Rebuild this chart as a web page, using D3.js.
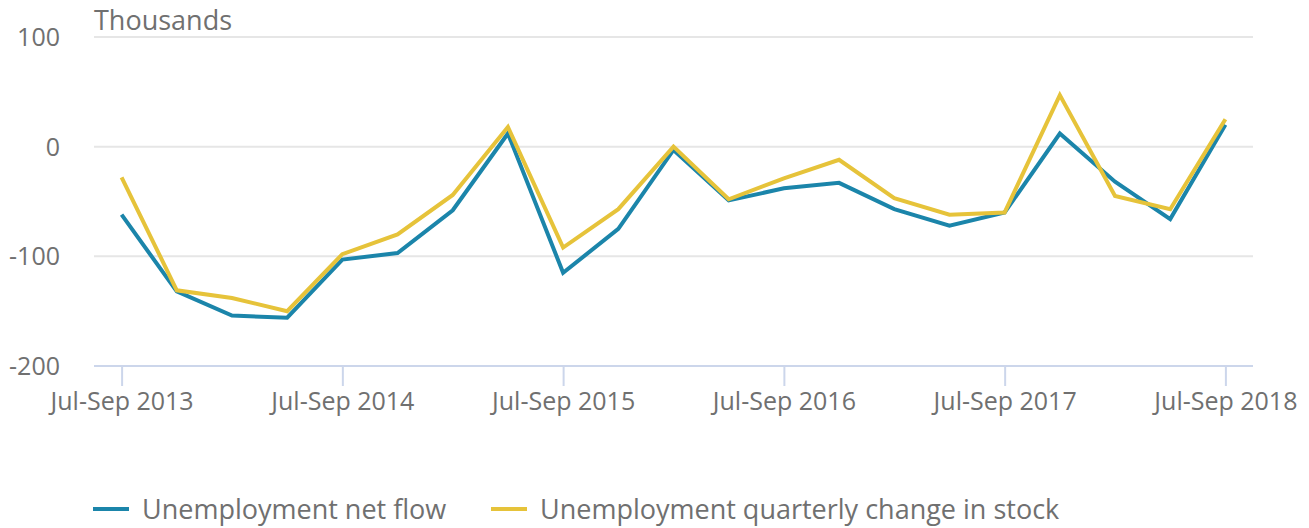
<!DOCTYPE html>
<html>
<head>
<meta charset="utf-8">
<script src="https://cdn.jsdelivr.net/npm/d3@7"></script>
<style>
  body { margin: 0; background: #fff; }
  text { font-family: "Open Sans", sans-serif; fill: #707070; }
</style>
</head>
<body>
<div id="chart-area"></div>
<script>
// quarters Jul-Sep 2013 .. Jul-Sep 2018
let quarters = ["Jul-Sep 2013", "Oct-Dec 2013", "Jan-Mar 2014", "Apr-Jun 2014",
  "Jul-Sep 2014", "Oct-Dec 2014", "Jan-Mar 2015", "Apr-Jun 2015",
  "Jul-Sep 2015", "Oct-Dec 2015", "Jan-Mar 2016", "Apr-Jun 2016",
  "Jul-Sep 2016", "Oct-Dec 2016", "Jan-Mar 2017", "Apr-Jun 2017",
  "Jul-Sep 2017", "Oct-Dec 2017", "Jan-Mar 2018", "Apr-Jun 2018",
  "Jul-Sep 2018"]

let netFlow = [-62, -132, -154, -156, -103, -97, -58, 12, -115, -75, -3,
  -49, -38, -33, -57, -72, -60, 12, -32, -66, 20]

let stockChange = [-28, -131, -138, -150, -98, -80, -44, 18, -92, -57, 0,
  -48, -29, -12, -47, -62, -60, 47, -45, -57, 25]

let yTicks = [100, 0, -100, -200]
let xTickLabels = ["Jul-Sep 2013", "Jul-Sep 2014", "Jul-Sep 2015", "Jul-Sep 2016", "Jul-Sep 2017", "Jul-Sep 2018"]

let seriesNames = ["Unemployment net flow", "Unemployment quarterly change in stock"]
let colors = ["#1b85aa", "#e6c33a"]

let width = 1309
let height = 528
let plot = {left: 94, right: 1253, top: 37, bottom: 366}

let svg = d3.select("#chart-area")
  .append("svg")
    .attr("width", width)
    .attr("height", height)

let x = d3.scalePoint().domain(quarters).range([plot.left, plot.right]).padding(0.5)
let y = d3.scaleLinear().domain([-200, 100]).range([plot.bottom, plot.top])

// gridlines
svg.append("g")
  .selectAll("line")
  .data(yTicks.filter(d => d != -200))
  .enter().append("line")
    .attr("x1", plot.left)
    .attr("x2", plot.right)
    .attr("y1", d => y(d))
    .attr("y2", d => y(d))
    .attr("stroke", "#e6e6e6")
    .attr("stroke-width", 2)

// y labels (plain hyphen for negatives, like the original)
let leftAxis = d3.axisLeft(y).tickValues(yTicks).tickSize(0).tickPadding(0)
  .tickFormat(d => String(d))
let ly = svg.append("g")
  .attr("transform", "translate(60, 0)")
  .call(leftAxis)
ly.select(".domain").remove()
ly.selectAll("text")
  .attr("font-size", "25px")
  .attr("dy", "0.34em")
  .attr("fill", null)
  .attr("font-family", null)

// x axis
let bottomAxis = d3.axisBottom(x).tickValues(xTickLabels).tickSize(20).tickPadding(5)
let lx = svg.append("g")
  .attr("transform", "translate(0, " + plot.bottom + ")")
  .call(bottomAxis)
lx.select(".domain")
  .attr("d", "M" + plot.left + ",0H" + plot.right)
  .attr("stroke", "#ccd6eb")
  .attr("stroke-width", 2)
lx.selectAll(".tick line")
  .attr("stroke", "#ccd6eb")
  .attr("stroke-width", 2)
lx.selectAll("text")
  .attr("font-size", "25px")
  .attr("y", 44)
  .attr("dy", 0)
  .attr("fill", null)
  .attr("font-family", null)

// lines
let line = d3.line()
  .x((d, i) => x(quarters[i]))
  .y(d => y(d))

let allSeries = [netFlow, stockChange]
allSeries.forEach((s, k) => {
  svg.append("path")
    .datum(s)
    .attr("fill", "none")
    .attr("stroke", colors[k])
    .attr("stroke-width", 4)
    .attr("stroke-linejoin", "miter")
    .attr("d", line)
})

svg.append("text")
  .attr("x", 94)
  .attr("y", 30)
  .attr("font-size", "27px")
  .text("Thousands")

// legend
let legendX = [93, 491]
seriesNames.forEach((name, k) => {
  let lg = svg.append("g").attr("transform", "translate(" + legendX[k] + ", 509)")
  lg.append("line")
    .attr("x1", 0).attr("x2", 36)
    .attr("stroke", colors[k])
    .attr("stroke-width", 4)
  lg.append("text")
    .attr("x", 49)
    .attr("y", 10)
    .attr("font-size", "27px")
    .text(name)
})
</script>
</body>
</html>
